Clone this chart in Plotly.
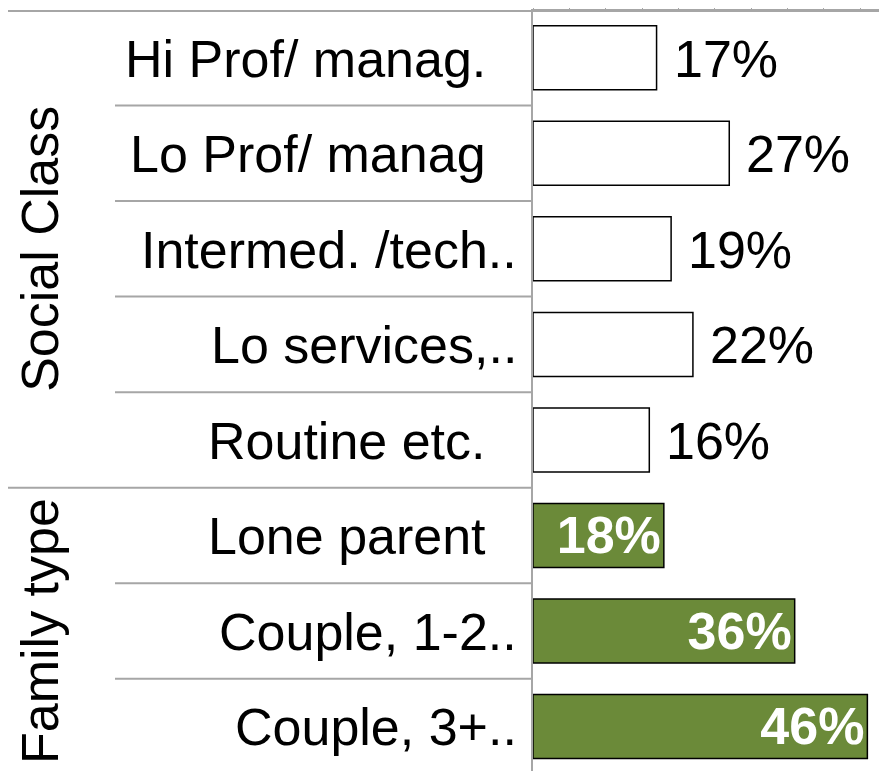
import plotly.graph_objects as go

# ---- data ----
class_labels = ["Hi Prof/ manag.", "Lo Prof/ manag", "Intermed. /tech..", "Lo services,..", "Routine etc."]
class_values = [17, 27, 19, 22, 16]
family_labels = ["Lone parent", "Couple, 1-2..", "Couple, 3+.."]
family_values = [18, 36, 46]
group_titles = ["Social Class", "Family type"]

FONT = "Liberation Sans, Arial, sans-serif"
GREEN = "#6B8A39"
GRID = "#A6A6A6"
FS = 52

cats = [f"c{i}" for i in range(len(class_labels))] + [f"f{i}" for i in range(len(family_labels))]
n = len(cats)

fig = go.Figure()
fig.add_trace(go.Bar(
    y=cats[:len(class_labels)], x=class_values, orientation="h", width=0.67,
    marker=dict(color="white", line=dict(color="black", width=1.5)),
    hoverinfo="skip", showlegend=False,
))
fig.add_trace(go.Bar(
    y=cats[len(class_labels):], x=family_values, orientation="h", width=0.67,
    marker=dict(color=GREEN, line=dict(color="black", width=1.5)),
    text=[f"{v}%" for v in family_values], textposition="inside",
    insidetextanchor="end", constraintext="none",
    textfont=dict(family=FONT, size=FS, color="white", weight="bold"),
    hoverinfo="skip", showlegend=False,
))

annotations = []
# outside labels for social class bars
for c, v in zip(cats[:len(class_labels)], class_values):
    annotations.append(dict(x=v, y=c, xref="x", yref="y", text=f"{v}%", showarrow=False,
                            xanchor="left", xshift=15, yshift=-1,
                            font=dict(family=FONT, size=FS, color="black")))
# row category labels
for c, lab in zip(cats, class_labels + family_labels):
    trunc = lab.endswith("..")
    annotations.append(dict(x=0, y=c, xref="paper", yref="y", text=lab, showarrow=False,
                            xanchor="right", xshift=(-14 if trunc else -45), yshift=-1,
                            font=dict(family=FONT, size=FS, color="black")))
# group titles
annotations.append(dict(x=0, y=(len(class_labels) - 1) / 2, xref="paper", yref="y",
                        text=group_titles[0], showarrow=False, textangle=-90,
                        xanchor="center", xshift=-493,
                        font=dict(family=FONT, size=FS, color="black")))
annotations.append(dict(x=0, y=len(class_labels) + (len(family_labels) - 1) / 2, xref="paper", yref="y",
                        text=group_titles[1], showarrow=False, textangle=-90,
                        xanchor="center", xshift=-493,
                        font=dict(family=FONT, size=FS, color="black")))

# page body adds an 8px offset; size the figure to fit the window
W, H = 879, 763
ML, MT = 525, 0
pw = W - ML
shapes = []
# top line extended to the left
shapes.append(dict(type="line", xref="paper", yref="paper", x0=(0 - ML) / pw, x1=1, y0=1, y1=1,
                   line=dict(color=GRID, width=2)))
# row separators
for i in range(n - 1):
    left = 0 if i == len(class_labels) - 1 else 107
    shapes.append(dict(type="line", xref="paper", yref="y", x0=(left - ML) / pw, x1=0,
                       y0=i + 0.5, y1=i + 0.5, line=dict(color=GRID, width=2)))

fig.update_layout(
    width=W, height=H,
    margin=dict(l=ML, r=0, t=MT, b=0, pad=0),
    paper_bgcolor="white", plot_bgcolor="white",
    xaxis=dict(range=[0, 48.7], side="top", showline=True, linecolor=GRID, linewidth=2,
               ticks="outside", ticklen=3, tickcolor=GRID, dtick=5, tick0=0,
               showticklabels=False, showgrid=False, zeroline=False),
    yaxis=dict(categoryorder="array", categoryarray=cats, range=[n - 0.534, -0.49],
               showline=True, linecolor=GRID, linewidth=2, showticklabels=False,
               ticks="", showgrid=False, zeroline=False),
    annotations=annotations, shapes=shapes,
    font=dict(family=FONT),
)
fig.write_html("out.html")
